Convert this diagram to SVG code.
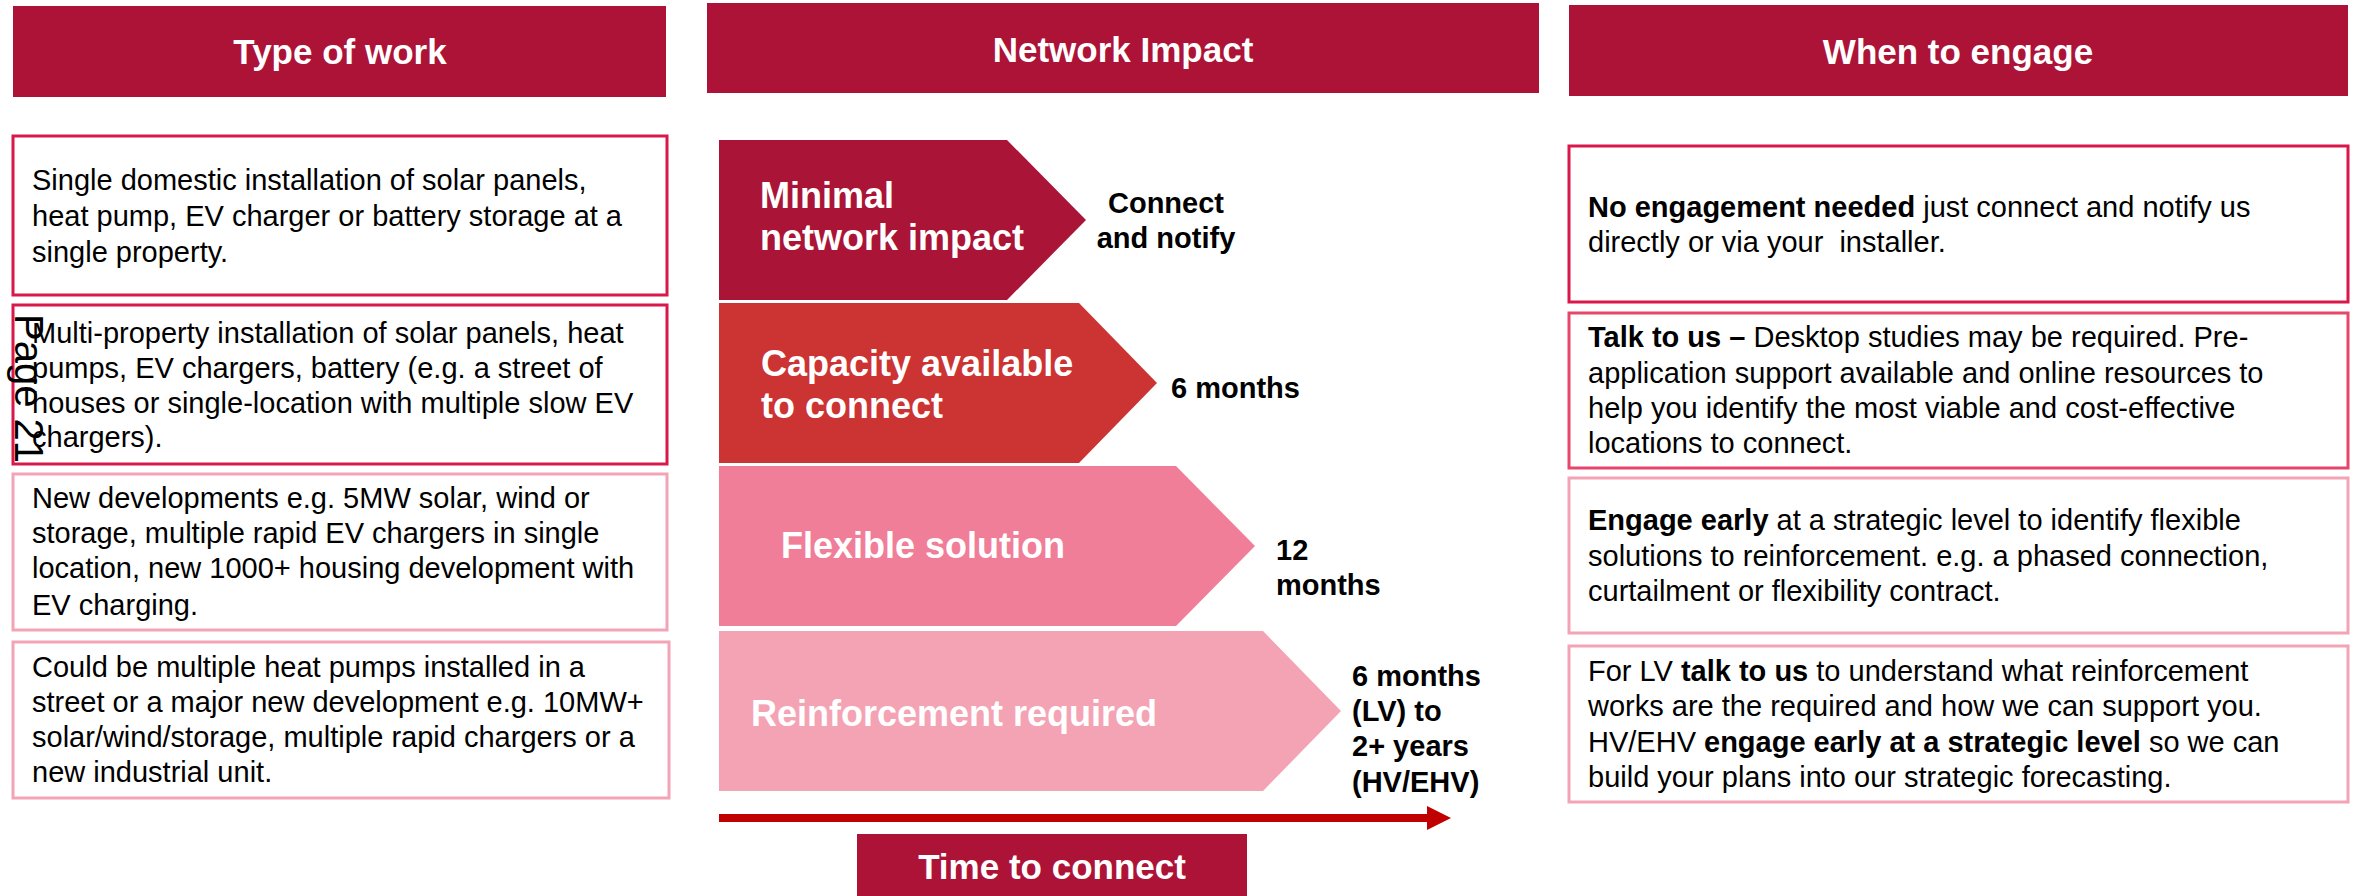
<svg xmlns="http://www.w3.org/2000/svg" width="2359" height="896" viewBox="0 0 2359 896">
<style>
text{font-family:"Liberation Sans",Arial,sans-serif}
.hdr{fill:#AC1337}
.ht{fill:#fff;font-weight:bold;font-size:35px;text-anchor:middle}
.ct{fill:#fff;font-weight:bold;font-size:36px}
.lt{fill:#000;font-weight:bold;font-size:29px}
.bt{fill:#000;font-size:29px}
.b{font-weight:bold}
.s1{fill:#fff;stroke:#D9174B;stroke-width:3}
.s2{fill:#fff;stroke:#E6466A;stroke-width:3}
.s3{fill:#fff;stroke:#F2A3B6;stroke-width:3}
</style>
<defs>
<marker id="ah" markerWidth="3" markerHeight="3" refX="0" refY="1.5" orient="auto" markerUnits="strokeWidth">
<path d="M0,0 L3,1.5 L0,3 Z" fill="#C00000"/>
</marker>
</defs>
<rect width="2359" height="896" fill="#fff"/>

<g id="hdr-type">
<rect class="hdr" x="13" y="6" width="653" height="91"/>
<text class="ht" x="340" y="64">Type of work</text>
</g>
<g id="hdr-impact">
<rect class="hdr" x="707" y="3" width="832" height="90"/>
<text class="ht" x="1123" y="62">Network Impact</text>
</g>
<g id="hdr-engage">
<rect class="hdr" x="1569" y="5" width="779" height="91"/>
<text class="ht" x="1958" y="64">When to engage</text>
</g>

<g id="work1">
<rect class="s1" x="13" y="136" width="654" height="159"/>
<text class="bt" x="32" y="190"><tspan x="32">Single domestic installation of solar panels,</tspan><tspan x="32" dy="36">heat pump, EV charger or battery storage at a</tspan><tspan x="32" dy="36">single property.</tspan></text>
</g>
<g id="work2">
<rect class="s1" x="13" y="305" width="654" height="159"/>
<text class="bt" x="32" y="343"><tspan x="32">Multi-property installation of solar panels, heat</tspan><tspan x="32" dy="35">pumps, EV chargers, battery (e.g. a street of</tspan><tspan x="32" dy="35">houses or single-location with multiple slow EV</tspan><tspan x="32" dy="34">chargers).</tspan></text>
</g>
<g id="work3">
<rect class="s3" x="13" y="474" width="654" height="156"/>
<text class="bt" x="32" y="508"><tspan x="32">New developments e.g. 5MW solar, wind or</tspan><tspan x="32" dy="35">storage, multiple rapid EV chargers in single</tspan><tspan x="32" dy="35">location, new 1000+ housing development with</tspan><tspan x="32" dy="37">EV charging.</tspan></text>
</g>
<g id="work4">
<rect class="s3" x="13" y="642" width="656" height="156"/>
<text class="bt" x="32" y="677"><tspan x="32">Could be multiple heat pumps installed in a</tspan><tspan x="32" dy="35">street or a major new development e.g. 10MW+</tspan><tspan x="32" dy="35">solar/wind/storage, multiple rapid chargers or a</tspan><tspan x="32" dy="35">new industrial unit.</tspan></text>
</g>

<g id="page-label">
<text transform="translate(15,314) rotate(90)" font-size="40" fill="#000">Page 21</text>
</g>

<g id="impact1">
<polygon points="719,140 1007,140 1086,220 1007,300 719,300" fill="#AA1436"/>
<text class="ct" x="760" y="208"><tspan x="760">Minimal</tspan><tspan x="760" dy="42">network impact</tspan></text>
<text class="lt" text-anchor="middle" x="1166" y="213"><tspan x="1166">Connect</tspan><tspan x="1166" dy="35">and notify</tspan></text>
</g>
<g id="impact2">
<polygon points="719,303 1079,303 1157,383 1079,463 719,463" fill="#CC3333"/>
<text class="ct" x="761" y="376"><tspan x="761">Capacity available</tspan><tspan x="761" dy="42">to connect</tspan></text>
<text class="lt" x="1171" y="398">6 months</text>
</g>
<g id="impact3">
<polygon points="719,466 1176,466 1255,546 1176,626 719,626" fill="#F07E98"/>
<text class="ct" x="781" y="558">Flexible solution</text>
<text class="lt" x="1276" y="560"><tspan x="1276">12</tspan><tspan x="1276" dy="35">months</tspan></text>
</g>
<g id="impact4">
<polygon points="719,631 1263,631 1341,711 1263,791 719,791" fill="#F4A3B5"/>
<text class="ct" x="751" y="726">Reinforcement required</text>
<text class="lt" x="1352" y="686"><tspan x="1352">6 months</tspan><tspan x="1352" dy="35">(LV) to</tspan><tspan x="1352" dy="35">2+ years</tspan><tspan x="1352" dy="36">(HV/EHV)</tspan></text>
</g>

<g id="connectors">
<line x1="719" y1="818" x2="1427" y2="818" stroke="#C00000" stroke-width="8" marker-end="url(#ah)"/>
</g>

<g id="time-label">
<rect class="hdr" x="857" y="834" width="390" height="62"/>
<text class="ht" x="1052" y="879" font-size="36">Time to connect</text>
</g>

<g id="engage1">
<rect class="s1" x="1569" y="146" width="779" height="156"/>
<text class="bt" x="1588" y="217"><tspan x="1588"><tspan class="b">No engagement needed</tspan> just connect and notify us</tspan><tspan x="1588" dy="35">directly or via your&#160; installer.</tspan></text>
</g>
<g id="engage2">
<rect class="s2" x="1569" y="313" width="779" height="155"/>
<text class="bt" x="1588" y="347"><tspan x="1588"><tspan class="b">Talk to us –</tspan> Desktop studies may be required. Pre-</tspan><tspan x="1588" dy="36">application support available and online resources to</tspan><tspan x="1588" dy="35">help you identify the most viable and cost-effective</tspan><tspan x="1588" dy="35">locations to connect.</tspan></text>
</g>
<g id="engage3">
<rect class="s3" x="1569" y="478" width="779" height="155"/>
<text class="bt" x="1588" y="530"><tspan x="1588"><tspan class="b">Engage early</tspan> at a strategic level to identify flexible</tspan><tspan x="1588" dy="36">solutions to reinforcement. e.g. a phased connection,</tspan><tspan x="1588" dy="35">curtailment or flexibility contract.</tspan></text>
</g>
<g id="engage4">
<rect class="s3" x="1569" y="646" width="779" height="156"/>
<text class="bt" x="1588" y="681"><tspan x="1588">For LV <tspan class="b">talk to us</tspan> to understand what reinforcement</tspan><tspan x="1588" dy="35">works are the required and how we can support you.</tspan><tspan x="1588" dy="36">HV/EHV <tspan class="b">engage early at a strategic level</tspan> so we can</tspan><tspan x="1588" dy="35">build your plans into our strategic forecasting.</tspan></text>
</g>
</svg>
